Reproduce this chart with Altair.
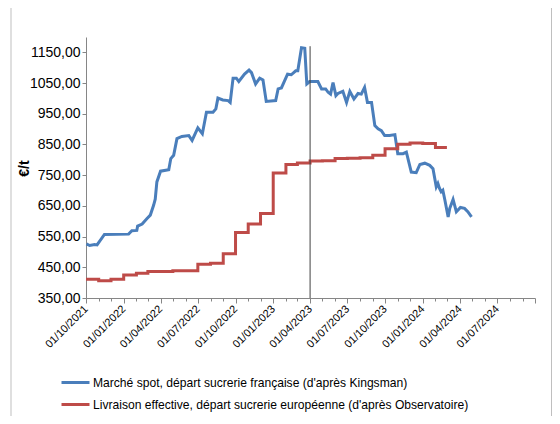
import altair as alt
import pandas as pd

series_names = [
    "Marché spot, départ sucrerie française (d'après Kingsman)",
    "Livraison effective, départ sucrerie européenne (d'après Observatoire)",
]
series_colors = ["#4A7EBB", "#BE4B48"]

blue_dates = [
    "2021-10-02", "2021-10-10", "2021-10-22", "2021-10-28", "2021-11-15", "2022-01-13",
    "2022-01-21", "2022-02-02", "2022-02-04", "2022-02-15", "2022-02-27", "2022-03-07",
    "2022-03-15", "2022-03-19", "2022-03-23", "2022-04-01", "2022-04-21", "2022-04-26",
    "2022-05-03", "2022-05-11", "2022-05-23", "2022-06-09", "2022-06-17", "2022-07-01",
    "2022-07-12", "2022-07-22", "2022-08-07", "2022-08-14", "2022-08-19", "2022-08-31",
    "2022-09-13", "2022-09-18", "2022-09-25", "2022-10-03", "2022-10-09", "2022-10-23",
    "2022-11-03", "2022-11-09", "2022-11-19", "2022-11-29", "2022-12-07", "2022-12-15",
    "2023-01-07", "2023-01-13", "2023-01-21", "2023-02-05", "2023-02-14", "2023-02-25",
    "2023-03-02", "2023-03-11", "2023-03-19", "2023-03-24", "2023-03-31", "2023-04-20",
    "2023-04-29", "2023-05-09", "2023-05-15", "2023-05-21", "2023-05-27", "2023-06-03",
    "2023-06-08", "2023-06-20", "2023-06-29", "2023-07-07", "2023-07-17", "2023-07-27",
    "2023-08-04", "2023-08-12", "2023-08-19", "2023-08-29", "2023-09-06", "2023-09-14",
    "2023-09-22", "2023-09-30", "2023-10-12", "2023-10-25", "2023-11-01", "2023-11-14",
    "2023-11-22", "2023-12-04", "2023-12-16", "2023-12-25", "2024-01-06", "2024-01-18",
    "2024-01-26", "2024-02-03", "2024-02-07", "2024-02-11", "2024-02-15", "2024-02-19",
    "2024-02-24", "2024-03-03", "2024-03-07", "2024-03-15", "2024-03-23", "2024-04-02",
    "2024-04-12", "2024-04-20", "2024-04-29",
]
blue_values = [
    526, 521, 524, 523, 557, 558,
    569, 570, 584, 591, 609, 620,
    652, 672, 728, 763, 768, 804,
    815, 869, 876, 879, 863, 904,
    885, 955, 955, 966, 1001, 995,
    993, 987, 1066, 1066, 1055, 1079,
    1092, 1084, 1047, 1066, 1060, 990,
    993, 1031, 1034, 1079, 1077, 1090,
    1090, 1165, 1163, 1047, 1055, 1055,
    1031, 1031, 1020, 1014, 1052, 1009,
    1016, 1023, 987, 1023, 998, 1016,
    1014, 1036, 987, 987, 912, 901,
    895, 879, 879, 882, 820, 820,
    825, 760, 758, 785, 789, 782,
    771, 712, 723, 707, 696, 701,
    669, 614, 642, 671, 631, 645,
    642, 631, 614,
]

red_dates = [
    "2021-10-01", "2021-11-01", "2021-12-01", "2022-01-01", "2022-02-01", "2022-03-01",
    "2022-04-01", "2022-05-01", "2022-06-01", "2022-07-01", "2022-08-01", "2022-09-01",
    "2022-10-01", "2022-11-01", "2022-12-01", "2023-01-01", "2023-02-01", "2023-03-01",
    "2023-04-01", "2023-05-01", "2023-06-01", "2023-07-01", "2023-08-01", "2023-09-01",
    "2023-10-01", "2023-11-01", "2023-12-01", "2024-01-01", "2024-02-01", "2024-02-29",
]
red_values = [
    411, 406, 411, 425, 431, 436,
    436, 439, 439, 460, 463, 494,
    563, 591, 625, 757, 785, 790,
    796, 797, 804, 805, 807, 815,
    836, 851, 855, 853, 840, 840,
]

marker_dates = ["2023-04-01"]
marker_top = [1170]
marker_bottom = [350]

y_ticks = [350, 450, 550, 650, 750, 850, 950, 1050, 1150]
y_domain = [350, 1200]

FONT = "Liberation Sans"
AXIS_GREY = "#868686"

blue_df = pd.DataFrame({"date": blue_dates, "value": blue_values, "serie": series_names[0]})
red_df = pd.DataFrame({"date": red_dates, "value": red_values, "serie": series_names[1]})
marker_df = pd.DataFrame({"date": marker_dates, "top": marker_top, "bottom": marker_bottom})

month_ticks = []
for yr in range(2021, 2025):
    for mo in range(1, 13):
        if (yr, mo) >= (2021, 10) and (yr, mo) <= (2024, 10):
            month_ticks.append(alt.DateTime(year=yr, month=mo, date=1, utc=True))

x_scale = alt.Scale(
    type="utc",
    domain=[alt.DateTime(year=2021, month=10, date=1, utc=True),
            alt.DateTime(year=2024, month=10, date=1, utc=True)],
    nice=False,
)
x_axis = alt.Axis(
    values=month_ticks,
    labelExpr="(utcmonth(datum.value) % 3 == 0 && datum.value < utc(2024, 8, 1)) ? utcFormat(datum.value, '%d/%m/%Y') : ''",
    labelAngle=-45,
    labelAlign="right",
    labelBaseline="middle",
    labelFont=FONT,
    labelFontSize=11,
    labelColor="#000000",
    labelOverlap=False,
    labelFlush=False,
    labelPadding=4,
    tickSize={"condition": {"test": "utcmonth(datum.value) % 3 == 0", "value": 5}, "value": 3},
    tickColor=AXIS_GREY,
    domainColor=AXIS_GREY,
    grid=False,
    title=None,
)
y_scale = alt.Scale(domain=y_domain, nice=False, zero=False)
y_axis = alt.Axis(
    values=y_ticks,
    labelExpr="replace(format(datum.value, '.2f'), '.', ',')",
    labelFont=FONT,
    labelFontSize=14,
    labelColor="#000000",
    labelPadding=2,
    tickSize=4,
    tickColor=AXIS_GREY,
    domainColor=AXIS_GREY,
    grid=False,
    title="€/t",
    titleFont=FONT,
    titleFontSize=14,
    titleFontWeight="bold",
    titleColor="#000000",
    titleAngle=-90,
    titleX=-62,
    titleY=131,
    titleAlign="center",
    titleBaseline="middle",
)

color = alt.Color(
    "serie:N",
    scale=alt.Scale(domain=series_names, range=series_colors),
    legend=alt.Legend(
        orient="none",
        legendX=-22,
        legendY=334,
        direction="vertical",
        title=None,
        symbolType="M-1.4,0H1.4",
        symbolSize=400,
        symbolStrokeWidth=3,
        labelFont=FONT,
        labelFontSize=12.1,
        labelColor="#000000",
        labelOffset=6,
        labelLimit=600,
        rowPadding=4,
        padding=0,
    ),
)

frame = alt.Chart(alt.Data(values=[{"k": 1}])).mark_rect(
    fillOpacity=0, stroke="#BFBFBF", strokeWidth=1
).encode(
    x=alt.value(-75), x2=alt.value(465.5), y=alt.value(-60), y2=alt.value(420)
)

blue = alt.Chart(blue_df).mark_line(strokeWidth=3).encode(
    x=alt.X("date:T", scale=x_scale, axis=x_axis),
    y=alt.Y("value:Q", scale=y_scale, axis=y_axis),
    color=color,
)
red = alt.Chart(red_df).mark_line(strokeWidth=3, interpolate="step-after").encode(
    x=alt.X("date:T", scale=x_scale, axis=x_axis),
    y=alt.Y("value:Q", scale=y_scale, axis=y_axis),
    color=color,
)
marker = alt.Chart(marker_df).mark_rule(color="#404040", strokeWidth=1).encode(
    x=alt.X("date:T", scale=x_scale, axis=x_axis),
    y=alt.Y("top:Q", scale=y_scale, axis=y_axis),
    y2="bottom:Q",
)

chart = alt.layer(frame, blue, red, marker).properties(
    width=449,
    height=261,
    autosize=alt.AutoSizeParams(type="none"),
    padding={"left": 78, "top": 29, "right": 17, "bottom": 118},
    background="white",
).configure_view(stroke=None)

chart.save("out.html", embed_options={"renderer": "svg", "actions": False})
